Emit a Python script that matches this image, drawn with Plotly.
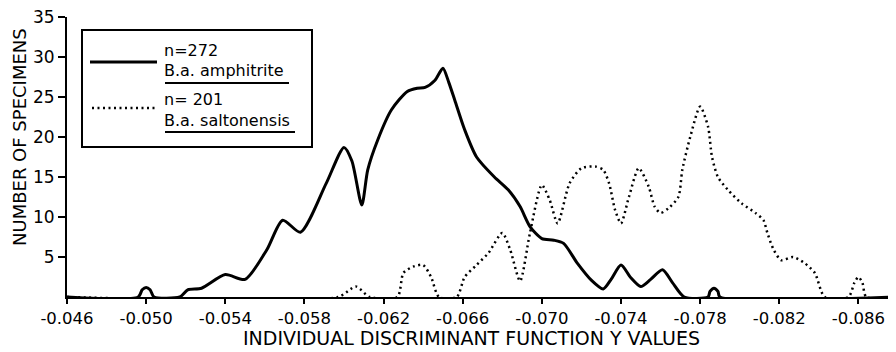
import plotly.graph_objects as go

# ---- data ----
amph_x = [-0.0460, -0.0496, -0.0498, -0.0500, -0.0502, -0.0504, -0.0517, -0.0521, -0.0528,
          -0.0540, -0.0550, -0.0561, -0.0569, -0.0578, -0.0591, -0.0600, -0.0604, -0.0609,
          -0.0612, -0.0617, -0.0624, -0.0632, -0.0637, -0.0641, -0.0646, -0.0650, -0.0653,
          -0.0656, -0.0661, -0.0667, -0.0676, -0.0683, -0.0689, -0.0694, -0.0700, -0.0706,
          -0.0711, -0.0718, -0.0725, -0.0731, -0.0735, -0.0740, -0.0745, -0.0750, -0.0755,
          -0.0761, -0.0766, -0.0772, -0.0784, -0.0785, -0.0787, -0.0789, -0.0790, -0.0879]
amph_y = [0, 0, 0.9, 1.2, 0.9, 0, 0, 0.9, 1.1,
          2.8, 2.2, 5.9, 9.6, 8.1, 14.2, 18.7, 17.0, 11.5,
          15.9, 19.6, 23.4, 25.7, 26.1, 26.2, 27.1, 28.6, 26.8,
          24.6, 20.9, 17.5, 15.0, 13.4, 11.3, 8.8, 7.3, 7.1,
          6.7, 4.2, 2.1, 1.0, 2.2, 4.0, 2.4, 1.3, 2.2,
          3.4, 1.8, 0, 0, 0.7, 1.1, 0.7, 0, 0]

salt_x = [-0.0460, -0.0597, -0.0606, -0.0613, -0.0627, -0.0630, -0.0635, -0.0640, -0.0644,
          -0.0648, -0.0657, -0.0661, -0.0667, -0.0673, -0.0680, -0.0684, -0.0689, -0.0694,
          -0.0700, -0.0704, -0.0708, -0.0714, -0.0720, -0.0727, -0.0731, -0.0734, -0.0737,
          -0.0740, -0.0744, -0.0749, -0.0754, -0.0757, -0.0760, -0.0764, -0.0769, -0.0771,
          -0.0775, -0.0780, -0.0784, -0.0786, -0.0789, -0.0794, -0.0801, -0.0808, -0.0812,
          -0.0814, -0.0817, -0.0821, -0.0827, -0.0833, -0.0838, -0.0843, -0.0855, -0.0858,
          -0.0860, -0.0862, -0.0864, -0.0879]
salt_y = [0, 0, 1.3, 0, 0, 3.0, 3.8, 4.0, 2.5,
          0, 0, 2.5, 4.0, 5.5, 8.0, 5.9, 2.0, 8.0,
          14.0, 12.1, 9.2, 14.2, 16.1, 16.3, 15.9, 14.2, 10.9,
          9.2, 12.5, 16.1, 13.8, 11.3, 10.5, 11.1, 12.5, 15.9,
          20.0, 23.8, 21.3, 17.5, 15.0, 13.4, 11.7, 10.5, 9.6,
          8.0, 6.0, 4.6, 5.0, 4.2, 3.0, 0, 0, 1.8,
          2.5, 1.8, 0, 0]

x_ticks = [-0.046, -0.050, -0.054, -0.058, -0.062, -0.066, -0.070, -0.074, -0.078, -0.082, -0.086]
x_tick_text = ["-0.046", "-0.050", "-0.054", "-0.058", "-0.062", "-0.066", "-0.070",
               "-0.074", "-0.078", "-0.082", "-0.086"]
y_ticks = [5, 10, 15, 20, 25, 30, 35]
y_tick_text = ["5", "10", "15", "20", "25", "30", "35"]

legend_n = ["n=272", "n= 201"]
legend_names = ["B.a. amphitrite", "B.a. saltonensis"]

x_title = "INDIVIDUAL DISCRIMINANT FUNCTION Y VALUES"
y_title = "NUMBER OF SPECIMENS"

# ---- layout geometry (page body has an 8px margin) ----
OFF = 8
W, H = 896 - OFF, 352 - OFF
# plot area in screenshot pixels: x 67..896, y 17..297
SX0, SX1, SY0, SY1 = 67, 896, 17, 297
L, R, T, B = SX0 - OFF, 0, SY0 - OFF, H - (SY1 - OFF)
PW, PH = SX1 - SX0, SY1 - SY0
FONT = "DejaVu Sans"


def px(xp):
    return (xp - SX0) / PW


def py(yp):
    return (SY1 - yp) / PH


fig = go.Figure()
fig.add_trace(go.Scatter(x=amph_x, y=amph_y, mode="lines",
                         line=dict(color="black", width=3, shape="spline", smoothing=0.7),
                         showlegend=False, hoverinfo="skip"))
fig.add_trace(go.Scatter(x=salt_x, y=salt_y, mode="lines",
                         line=dict(color="black", width=2.5, dash="2px,3.5px",
                                   shape="spline", smoothing=0.7),
                         showlegend=False, hoverinfo="skip"))

shapes = []
# legend box
shapes.append(dict(type="rect", xref="paper", yref="paper",
                   x0=px(82), x1=px(312), y0=py(147), y1=py(30),
                   line=dict(color="black", width=2), fillcolor="white", layer="above"))
# legend samples
shapes.append(dict(type="line", xref="paper", yref="paper",
                   x0=px(90), x1=px(157), y0=py(62), y1=py(62),
                   line=dict(color="black", width=3), layer="above"))
shapes.append(dict(type="line", xref="paper", yref="paper",
                   x0=px(92), x1=px(157), y0=py(108), y1=py(108),
                   line=dict(color="black", width=2.5, dash="2px,3.5px"), layer="above"))
# underlines
shapes.append(dict(type="line", xref="paper", yref="paper",
                   x0=px(165), x1=px(289), y0=py(83), y1=py(83),
                   line=dict(color="black", width=2), layer="above"))
shapes.append(dict(type="line", xref="paper", yref="paper",
                   x0=px(165), x1=px(295), y0=py(132), y1=py(132),
                   line=dict(color="black", width=2), layer="above"))

ann = []
for txt, yp in [(legend_n[0], 50), (legend_names[0], 71), (legend_n[1], 100), (legend_names[1], 120)]:
    ann.append(dict(text=txt, xref="paper", yref="paper", x=px(162), y=py(yp),
                    xanchor="left", yanchor="middle", showarrow=False,
                    font=dict(family=FONT, size=16, color="black")))
ann.append(dict(text=x_title, xref="paper", yref="paper", x=px(471.5), y=py(337.5),
                xanchor="center", yanchor="middle", showarrow=False,
                font=dict(family=FONT, size=19, color="black")))
ann.append(dict(text=y_title, xref="paper", yref="paper", x=px(19), y=py(137),
                xanchor="center", yanchor="middle", showarrow=False, textangle=-90,
                font=dict(family=FONT, size=18, color="black")))

fig.update_layout(
    width=W, height=H,
    margin=dict(l=L, r=R, t=T, b=B, pad=0),
    paper_bgcolor="white", plot_bgcolor="white",
    shapes=shapes, annotations=ann,
    xaxis=dict(range=[-0.046, -0.0879], tickvals=x_ticks, ticktext=x_tick_text,
               showgrid=False, zeroline=False, showline=True, linecolor="black", linewidth=2,
               ticks="outside", ticklen=5, tickwidth=2, tickcolor="black",
               ticklabeloverflow="allow",
               tickfont=dict(family=FONT, size=16.5, color="black")),
    yaxis=dict(range=[0, 35], tickvals=y_ticks, ticktext=y_tick_text,
               showgrid=False, zeroline=False, showline=True, linecolor="black", linewidth=2,
               ticks="outside", ticklen=7, tickwidth=2, tickcolor="black",
               ticklabeloverflow="allow",
               tickfont=dict(family=FONT, size=17, color="black")),
)

fig.write_html("out.html")
